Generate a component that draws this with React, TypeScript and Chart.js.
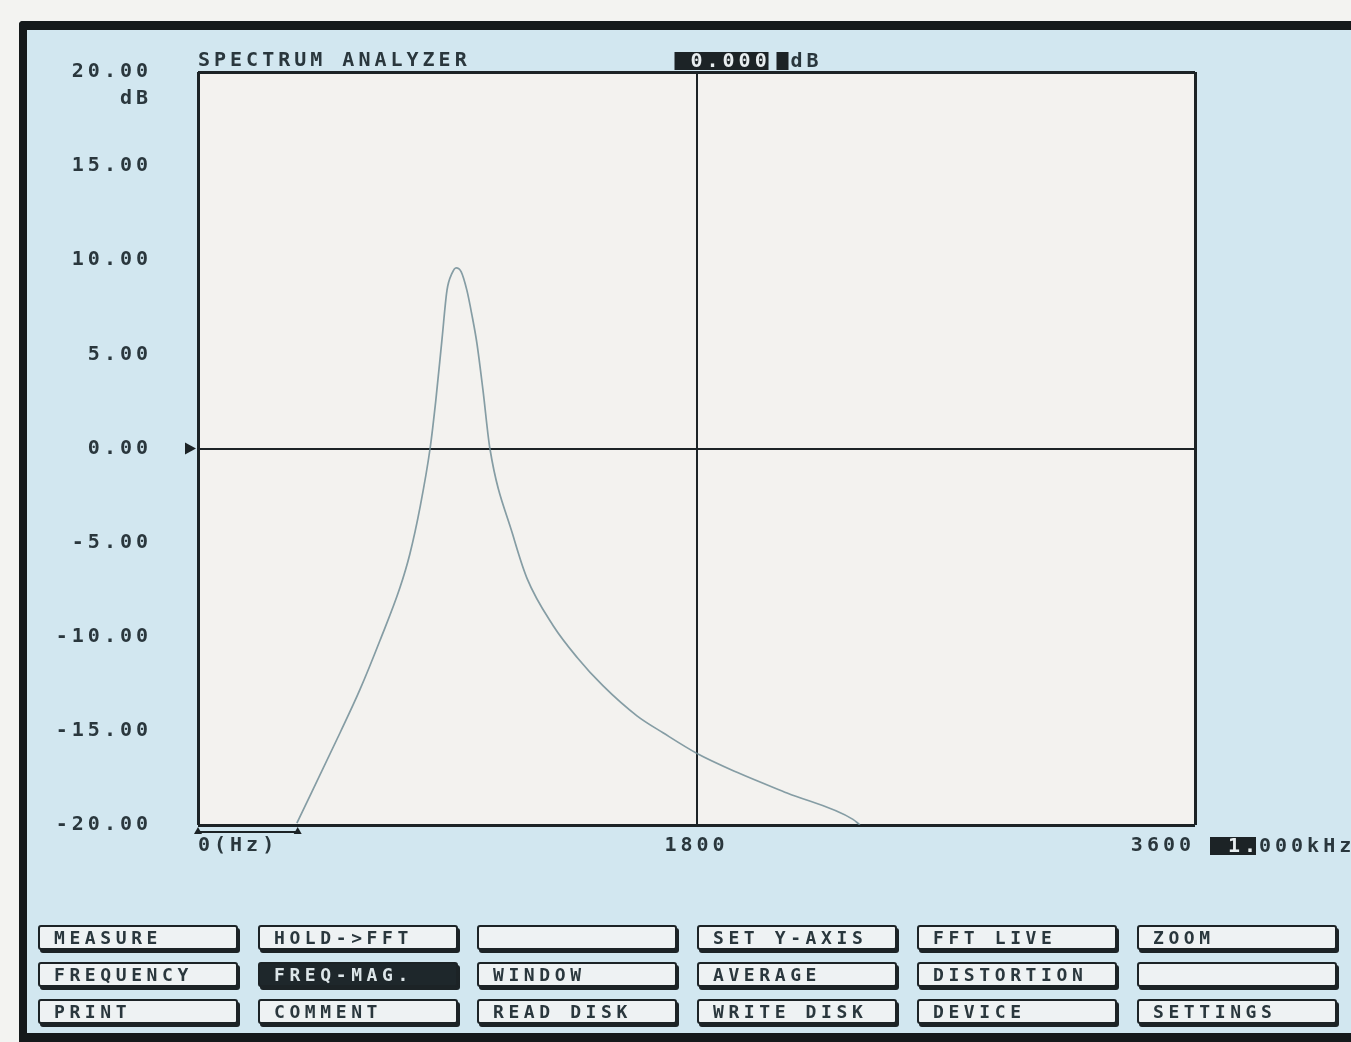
import React, { useEffect, useRef } from "react";
import { Chart, registerables } from "chart.js";

Chart.register(...registerables);

// Measured magnitude response (frequency in Hz, level in dB)
const freqHz = [
  357, 513, 585, 657, 729, 765, 802, 838, 859, 881, 899, 917, 932, 950, 971, 989,
  1007, 1029, 1054, 1137, 1188, 1282, 1369, 1462, 1585, 1679, 1802, 1946, 2127,
  2365, 2390,
];
const levelDb = [
  -19.9, -15.1, -12.8, -10.2, -7.4, -5.6, -3.1, 0.0, 2.6, 5.8, 8.4, 9.3, 9.6, 9.4,
  8.4, 7.1, 5.6, 3.1, 0.0, -4.6, -6.9, -9.4, -11.1, -12.6, -14.2, -15.1, -16.2,
  -17.2, -18.3, -19.7, -20.0,
];

const xTicks = [0, 1800, 3600];
const xTickLabels = ["0(Hz)", "1800", "3600"];
const yMin = -20;
const yMax = 20;
const yStep = 5;

const titleText = "SPECTRUM ANALYZER";
const yUnit = "dB";
const levelReadout = ["0.000", "dB"];
const freqReadout = ["1.", "000kHz"];
const cursorHz = 360;

const buttonRows = [
  ["MEASURE", "HOLD->FFT", "", "SET Y-AXIS", "FFT LIVE", "ZOOM"],
  ["FREQUENCY", "FREQ-MAG.", "WINDOW", "AVERAGE", "DISTORTION", ""],
  ["PRINT", "COMMENT", "READ DISK", "WRITE DISK", "DEVICE", "SETTINGS"],
];
const activeButton = "FREQ-MAG.";

const INK = "#2a373d";
const DARK = "#1c2326";
const PLOT_BG = "#f3f2ef";
const SCREEN_BG = "#d2e7f0";
const FONT = 'bold 20px "DejaVu Sans Mono"';
const SPACING = "4px";

const screenPlugin = {
  id: "screenText",
  beforeDraw(chart: any) {
    const { ctx, chartArea: a } = chart;
    ctx.save();
    ctx.fillStyle = PLOT_BG;
    ctx.fillRect(a.left, a.top, a.right - a.left, a.bottom - a.top);
    ctx.restore();
    ctx.letterSpacing = SPACING;
  },
  afterDraw(chart: any) {
    const { ctx, chartArea: a, scales } = chart;
    const x = scales.x;
    const y = scales.y;
    ctx.save();
    ctx.font = FONT;
    ctx.letterSpacing = SPACING;
    ctx.textBaseline = "middle";

    // heading above the plot
    ctx.fillStyle = INK;
    ctx.textAlign = "left";
    ctx.fillText(titleText, a.left, a.top - 11);

    // unit under the top tick label
    ctx.textAlign = "right";
    ctx.fillText(yUnit, a.left - 46, y.getPixelForValue(yMax) + 27);

    // level readout at top
    const rx = x.getPixelForValue(1800) - 22;
    const ry = a.top - 11;
    ctx.fillStyle = DARK;
    ctx.fillRect(rx, ry - 9, 94, 18);
    ctx.fillStyle = "#e8eef0";
    ctx.textAlign = "left";
    ctx.fillText(levelReadout[0], rx + 16, ry + 1);
    ctx.fillStyle = DARK;
    ctx.fillRect(rx + 102, ry - 9, 12, 18);
    ctx.fillStyle = INK;
    ctx.fillText(levelReadout[1], rx + 116, ry + 1);

    // frequency readout at bottom right
    const fx = a.right + 15;
    const fy = a.bottom + 21;
    ctx.fillStyle = DARK;
    ctx.fillRect(fx, fy - 9, 46, 18);
    ctx.fillStyle = "#e8eef0";
    ctx.fillText(freqReadout[0], fx + 18, fy + 1);
    ctx.fillStyle = INK;
    ctx.fillText(freqReadout[1], fx + 49, fy + 1);

    // reference level pointer
    const zy = y.getPixelForValue(0);
    ctx.fillStyle = DARK;
    ctx.beginPath();
    ctx.moveTo(a.left - 13, zy - 6);
    ctx.lineTo(a.left - 2, zy);
    ctx.lineTo(a.left - 13, zy + 6);
    ctx.closePath();
    ctx.fill();

    // cursor span below the x axis
    const c0 = x.getPixelForValue(0);
    const c1 = x.getPixelForValue(cursorHz);
    const cy = a.bottom + 7;
    ctx.strokeStyle = DARK;
    ctx.lineWidth = 2;
    ctx.beginPath();
    ctx.moveTo(c0, cy);
    ctx.lineTo(c1, cy);
    ctx.stroke();
    for (const px of [c0, c1]) {
      ctx.beginPath();
      ctx.moveTo(px - 4, cy + 2);
      ctx.lineTo(px, cy - 5);
      ctx.lineTo(px + 4, cy + 2);
      ctx.closePath();
      ctx.fill();
    }
    ctx.restore();
    ctx.letterSpacing = "0px";
  },
};

function Button({ label, left, top }: { label: string; left: number; top: number }) {
  const active = label !== "" && label === activeButton;
  return (
    <div
      style={{
        position: "absolute",
        left,
        top,
        width: 200,
        height: 25,
        boxSizing: "border-box",
        border: `2px solid ${DARK}`,
        borderRadius: 3,
        boxShadow: `2px 3px 0 ${DARK}`,
        background: active ? "#1e272b" : "#eef2f3",
        color: active ? "#dde6e9" : INK,
        font: 'bold 18px "DejaVu Sans Mono"',
        letterSpacing: "4.6px",
        lineHeight: "21px",
        paddingLeft: 14,
        whiteSpace: "nowrap",
        overflow: "hidden",
      }}
    >
      {label}
    </div>
  );
}

export default function App() {
  const canvasRef = useRef<HTMLCanvasElement | null>(null);

  useEffect(() => {
    const canvas = canvasRef.current;
    if (!canvas) return;
    const chart = new Chart(canvas, {
      type: "line",
      data: {
        datasets: [
          {
            data: freqHz.map((f, i) => ({ x: f, y: levelDb[i] })),
            borderColor: "rgba(105,135,145,0.8)",
            borderWidth: 1.7,
            pointRadius: 0,
            cubicInterpolationMode: "monotone",
            fill: false,
          },
        ],
      },
      options: {
        responsive: false,
        animation: false,
        layout: { padding: { top: 72, right: 156, bottom: 177, left: 0 } },
        plugins: {
          legend: { display: false },
          tooltip: { enabled: false },
          title: { display: false },
        },
        scales: {
          x: {
            type: "linear",
            min: xTicks[0],
            max: xTicks[xTicks.length - 1],
            afterBuildTicks: (scale: any) => {
              scale.ticks = xTicks.map((v) => ({ value: v }));
            },
            afterFit: (scale: any) => {
              scale.height = 40;
            },
            border: { display: false },
            grid: {
              drawTicks: false,
              color: DARK,
              lineWidth: (c: any) => (c.tick && c.tick.value === 1800 ? 2 : 3),
            },
            ticks: {
              align: "inner",
              padding: 9,
              maxRotation: 0,
              color: INK,
              font: { family: "DejaVu Sans Mono", size: 20, weight: "bold" },
              callback: (v: any) => xTickLabels[xTicks.indexOf(Number(v))] ?? "",
            },
          },
          y: {
            type: "linear",
            min: yMin,
            max: yMax,
            afterFit: (scale: any) => {
              scale.width = 198;
            },
            border: { display: false },
            grid: {
              drawTicks: false,
              color: (c: any) => {
                const v = c.tick ? c.tick.value : NaN;
                return v === yMin || v === yMax || v === 0 ? DARK : "rgba(0,0,0,0)";
              },
              lineWidth: (c: any) => (c.tick && c.tick.value === 0 ? 2 : 3),
            },
            ticks: {
              stepSize: yStep,
              padding: 46,
              color: INK,
              font: { family: "DejaVu Sans Mono", size: 20, weight: "bold" },
              callback: (v: any) => Number(v).toFixed(2),
            },
          },
        },
      },
      plugins: [screenPlugin],
    } as any);
    return () => chart.destroy();
  }, []);

  const colLefts = [38, 258, 477, 697, 917, 1137];
  const rowTops = [925, 962, 999];

  return (
    <div
      style={{
        position: "fixed",
        left: 0,
        top: 0,
        width: 1351,
        height: 1042,
        overflow: "hidden",
        background: "#f3f3f1",
      }}
    >
      <div
        style={{
          position: "absolute",
          left: 19,
          top: 21,
          width: 1360,
          height: 1021,
          boxSizing: "border-box",
          borderLeft: "8px solid #15191b",
          borderTop: "9px solid #15191b",
          borderBottom: "9px solid #15191b",
          borderTopLeftRadius: 4,
          background: SCREEN_BG,
        }}
      />
      <canvas
        ref={canvasRef}
        width={1351}
        height={1042}
        style={{ position: "absolute", left: 0, top: 0, width: 1351, height: 1042 }}
      />
      {buttonRows.map((row, r) =>
        row.map((label, c) => (
          <Button key={`${r}-${c}`} label={label} left={colLefts[c]} top={rowTops[r]} />
        ))
      )}
    </div>
  );
}
